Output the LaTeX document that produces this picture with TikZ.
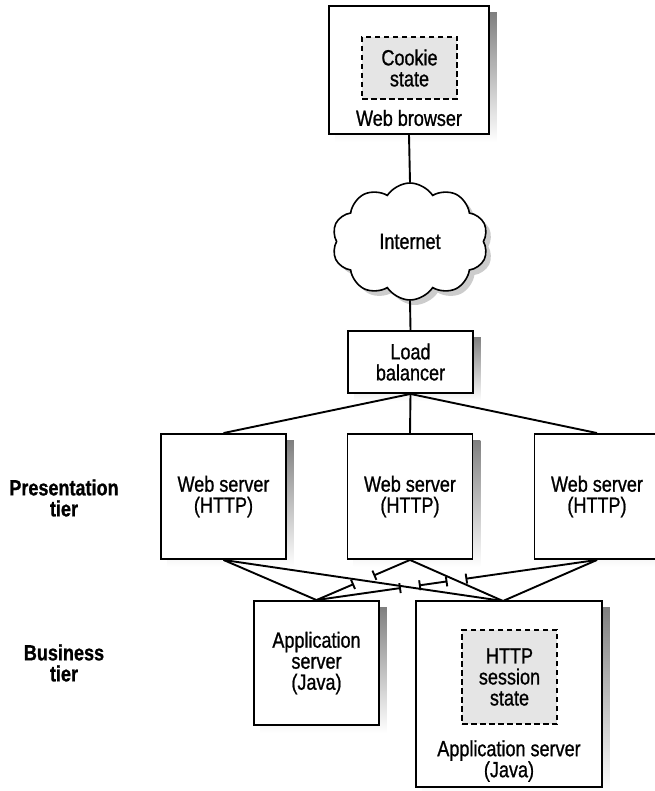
\documentclass[tikz,border=0pt]{standalone}
\usepackage{fontspec}
\setmainfont{Liberation Sans}[FakeStretch=0.82, FakeBold=0.9]
\usetikzlibrary{shapes.symbols,arrows.meta,calc,backgrounds}
\definecolor{shade}{gray}{0.8}
\definecolor{statefill}{gray}{0.9}

\begin{document}
\begin{tikzpicture}[x=1pt,y=-1pt,
  txt/.style={font=\fontsize{22}{21}\selectfont, align=center, inner sep=0pt},
  box/.style={draw, line width=1.9pt, fill=white, inner sep=0pt},
  cloudshape/.style={cloud, cloud puffs=10, cloud puff arc=115,
    minimum width=156pt, minimum height=117pt, inner sep=0pt},
  statebox/.style={draw, line width=1.5pt, dash pattern=on 5.5pt off 3.5pt,
    fill=statefill, inner sep=0pt, font=\fontsize{22}{21}\selectfont, align=center},
  link/.style={line width=1.9pt},
  gapend/.style={-{Bar[width=10pt, line width=1.9pt]}},
  gapstart/.style={{Bar[width=10pt, line width=1.9pt]}-}
]
\useasboundingbox (0,0) rectangle (654,791);

% browser with its cookie store
\node[box, minimum width=160pt, minimum height=128pt] (browser) at (409,70) {};
\node[statebox, minimum width=95pt, minimum height=62pt] (cookie) at (409.5,68) {Cookie\\state};
\node[txt] (browserlabel) at (409,118) {Web browser};

% network
\node[cloudshape, draw, line width=1.6pt, fill=white,
  font=\fontsize{22}{21}\selectfont] (internet) at (410,241.5) {Internet};
\node[box, txt, minimum width=125pt, minimum height=62pt] (lb) at (410.5,362) {Load\\balancer};

% presentation tier
\node[box, txt, minimum width=125pt, minimum height=125pt] (ws1) at (223.5,496.5) {Web server\\(HTTP)};
\node[box, txt, minimum width=125pt, minimum height=125pt] (ws2) at (410,496.5) {Web server\\(HTTP)};
\node[box, txt, minimum width=125pt, minimum height=125pt] (ws3) at (597,496.5) {Web server\\(HTTP)};

% business tier
\node[box, txt, minimum width=125pt, minimum height=124pt] (app1) at (316.5,663) {Application\\server\\(Java)};
\node[box, minimum width=186pt, minimum height=186pt] (app2) at (509,694) {};
\node[statebox, minimum width=95pt, minimum height=94pt] (session) at (509.5,677) {HTTP\\session\\state};
\node[txt] (app2label) at (509,761) {Application server\\(Java)};
\coordinate (app2in) at (503,601);

% tier labels
\node[txt, font=\fontsize{22}{21}\selectfont\bfseries] (prestier) at (64,498) {Presentation\\tier};
\node[txt, font=\fontsize{22}{21}\selectfont\bfseries] (bustier) at (64,663) {Business\\tier};

% drop shadows behind the boxes and the cloud
\begin{scope}[on background layer]
  \foreach \n in {browser,lb,ws1,ws2,ws3,app1,app2}
    \fill[shade] ($(\n.south west)+(7,7)$) rectangle ($(\n.north east)+(7,7)$);
  \node[cloudshape, fill=shade] (internetshadow) at ($(internet.center)+(5,5)$) {\phantom{Internet}};
\end{scope}

% connectors
\draw[link] (browser.south) -- (internet.north);
\draw[link] (internet.south) -- (lb.north);
\draw[link] (lb.south) -- (ws1.north);
\draw[link] (lb.south) -- (ws2.north);
\draw[link] (lb.south) -- (ws3.north);

\draw[link] (ws1.south) -- (app1.north);
\draw[link] (ws1.south) -- (app2in);
\draw[link] (ws2.south) -- (app2in);
\draw[link] (ws3.south) -- (app2in);

% line jumps: the crossing connector is broken, with a bar at each side
\coordinate (ja1) at ($(ws2.south)!0.39!(app1.north)$);
\coordinate (ja2) at ($(ws2.south)!0.60!(app1.north)$);
\draw[link, gapend] (ws2.south) -- (ja1);
\draw[link, gapstart] (ja2) -- (app1.north);

\coordinate (jc1) at ($(ws3.south)!0.469!(app1.north)$);
\coordinate (jc2) at ($(ws3.south)!0.533!(app1.north)$);
\coordinate (jb1) at ($(ws3.south)!0.635!(app1.north)$);
\coordinate (jb2) at ($(ws3.south)!0.699!(app1.north)$);
\draw[link, gapend] (ws3.south) -- (jc1);
\draw[link, {Bar[width=10pt, line width=1.9pt]}-{Bar[width=10pt, line width=1.9pt]}] (jc2) -- (jb1);
\draw[link, gapstart] (jb2) -- (app1.north);
\end{tikzpicture}
\end{document}
